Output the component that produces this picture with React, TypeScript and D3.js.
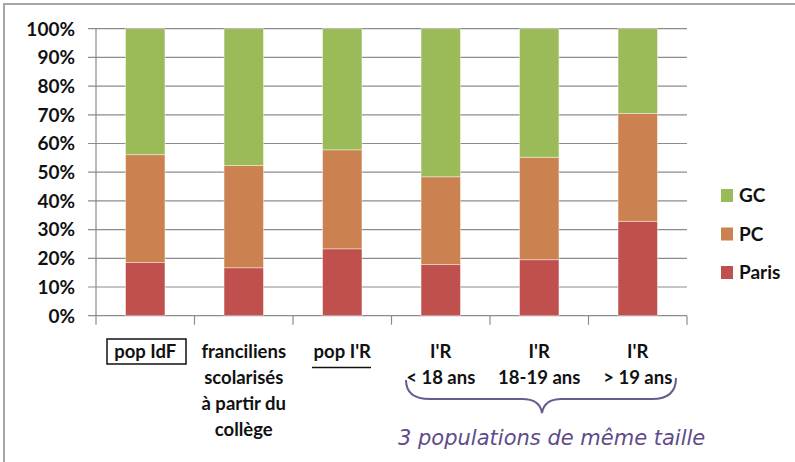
import React from 'react'
import * as d3 from 'd3'

// categories (each label split in lines)
const categoryLines: string[][] = [
    ['pop IdF'],
    ['franciliens', 'scolarisés', 'à partir du', 'collège'],
    ["pop I'R"],
    ["I'R", '< 18 ans'],
    ["I'R", '18-19 ans'],
    ["I'R", '> 19 ans'],
]
const categories = categoryLines.map((l) => l.join(' '))

// series values, in %
const paris = [18.5, 16.7, 23.3, 17.8, 19.5, 32.9]
const pc = [37.6, 35.6, 34.5, 30.6, 35.7, 37.6]
const gc = [43.9, 47.7, 42.2, 51.6, 44.8, 29.5]

const seriesNames = ['Paris', 'PC', 'GC']
const seriesColors = ['#c0504d', '#cc8250', '#9bbb59']
const legendOrder = ['GC', 'PC', 'Paris']

const yTicks = [0, 10, 20, 30, 40, 50, 60, 70, 80, 90, 100]

const W = 795
const H = 462
const plot = { left: 96, right: 687, top: 28.7, bottom: 315.7 }

const App: React.FC = () => {
    const x = d3
        .scaleBand<string>()
        .domain(categories)
        .range([plot.left, plot.right])
        .paddingInner(0.6)
        .paddingOuter(0.3)
    const step = (plot.right - plot.left) / categories.length
    const y = d3.scaleLinear().domain([0, 100]).range([plot.bottom, plot.top])

    const table = categories.map((c, i) => ({
        cat: c,
        Paris: paris[i],
        PC: pc[i],
        GC: gc[i],
    }))
    const stacked = d3.stack<any>().keys(seriesNames)(table)

    const grid = '#8c8c8c'
    const font = 'Lato, "Open Sans", sans-serif'

    return (
        <svg
            width={W}
            height={H}
            style={{ position: 'absolute', left: 0, top: 0, background: '#fff' }}
        >
            {/* outer frame */}
            <rect x={4} y={4} width={W + 10} height={H + 10} fill="none" stroke="#a6a6a6" strokeWidth={2} />

            {/* gridlines + y ticks */}
            {yTicks.map((t) => (
                <g key={t}>
                    <line x1={plot.left - 8} x2={plot.right} y1={y(t)} y2={y(t)} stroke={grid} strokeWidth={1.2} />
                    <text
                        x={75}
                        y={y(t)}
                        dy="0.36em"
                        textAnchor="end"
                        fontFamily={font}
                        fontWeight="bold"
                        fontSize={19}
                        fill="#111"
                    >
                        {t}%
                    </text>
                </g>
            ))}
            <line x1={plot.left} x2={plot.left} y1={plot.top} y2={plot.bottom} stroke={grid} strokeWidth={1.2} />

            {/* x ticks at category boundaries */}
            {d3.range(categories.length + 1).map((i) => (
                <line
                    key={i}
                    x1={plot.left + i * step}
                    x2={plot.left + i * step}
                    y1={plot.bottom}
                    y2={plot.bottom + 9}
                    stroke={grid}
                    strokeWidth={1.2}
                />
            ))}

            {/* bars */}
            {stacked.map((s, si) => (
                <g key={s.key} fill={seriesColors[si]}>
                    {s.map((d, i) => (
                        <rect
                            key={i}
                            x={x(categories[i])}
                            width={x.bandwidth()}
                            y={y(d[1])}
                            height={y(d[0]) - y(d[1])}
                            stroke="rgba(255,255,255,0.5)"
                            strokeWidth={0.8}
                        />
                    ))}
                </g>
            ))}

            {/* category labels */}
            {categoryLines.map((lines, i) => {
                const cx = (x(categories[i]) ?? 0) + x.bandwidth() / 2
                return (
                    <g key={i}>
                        <text
                            textAnchor="middle"
                            fontFamily={font}
                            fontWeight="bold"
                            fontSize={18.5}
                            fill="#111"
                        >
                            {lines.map((ln, j) => (
                                <tspan key={j} x={cx} y={358 + j * 26}>
                                    {ln}
                                </tspan>
                            ))}
                        </text>
                    </g>
                )
            })}
            {/* box around pop IdF */}
            <rect x={107} y={339} width={79} height={25} fill="none" stroke="#111" strokeWidth={1.5} />
            {/* underline pop I'R */}
            <line x1={312} x2={371} y1={367.5} y2={367.5} stroke="#111" strokeWidth={1.5} />

            {/* brace */}
            <path
                d="M406,380 Q406,399 430,399 L522,399 Q540,399 542,413 Q544,399 562,399 L652,399 Q676,399 676,378"
                fill="none"
                stroke="#6b5a92"
                strokeWidth={2}
            />
            <text
                x={398}
                y={445}
                fontFamily='"DejaVu Sans", sans-serif'
                fontStyle="italic"
                fontSize={21}
                fill="#5f4b8b"
            >
                3 populations de même taille
            </text>

            {/* legend */}
            {legendOrder.map((name, i) => {
                const ci = seriesNames.indexOf(name)
                const ly = 189 + i * 38.5
                return (
                    <g key={name}>
                        <rect x={721} y={ly} width={12} height={13} fill={seriesColors[ci]} />
                        <text
                            x={739}
                            y={ly + 6.5}
                            dy="0.36em"
                            fontFamily={font}
                            fontWeight="bold"
                            fontSize={19}
                            fill="#111"
                        >
                            {name}
                        </text>
                    </g>
                )
            })}
        </svg>
    )
}

export default App
